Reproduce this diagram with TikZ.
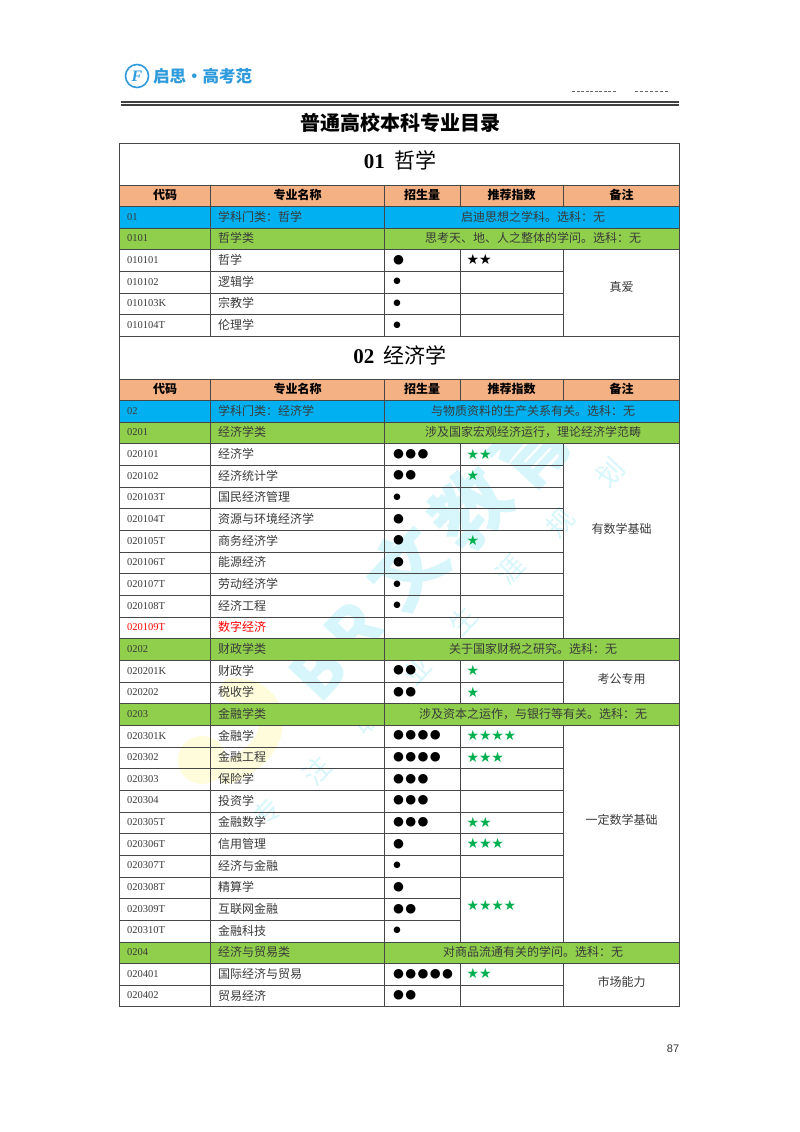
\documentclass[tikz,border=0pt]{standalone}
\usepackage{fontspec}
\setmainfont{Liberation Serif}
\newfontfamily\cjk{Noto Sans CJK SC}
\newfontfamily\symb{DejaVu Sans}
\newfontfamily\pagefont{Liberation Sans}
\definecolor{headfill}{HTML}{F4B183}
\definecolor{bluefill}{HTML}{00B0F0}
\definecolor{greenfill}{HTML}{8FCF4B}
\definecolor{stargreen}{HTML}{00B050}
\definecolor{logoblue}{HTML}{2F9BDC}
\definecolor{wmcyan}{HTML}{D6F6FB}
\definecolor{wmyellow}{HTML}{FFFCDC}
\definecolor{txt}{HTML}{3A3A3A}
\tikzset{
  grid/.style={draw=black!72,line width=1pt},
  body/.style={font=\fontsize{12}{12}\selectfont\cjk,text=txt,inner sep=0pt,anchor=west},
  code/.style={font=\fontsize{10.5}{12}\selectfont,text=txt,inner sep=0pt,anchor=west},
  merged/.style={font=\fontsize{12}{12}\selectfont\cjk,text=txt,inner sep=0pt},
  headtxt/.style={font=\fontsize{12}{12}\selectfont\cjk\bfseries,inner sep=0pt},
  bigtitle/.style={font=\fontsize{21}{21}\selectfont\bfseries,inner sep=0pt},
  wmbig/.style={font=\fontsize{76}{76}\selectfont\cjk\bfseries,text=wmcyan,inner sep=0pt,rotate=47},
  wmsmall/.style={font=\fontsize{27}{27}\selectfont\cjk,text=wmcyan,inner sep=0pt,rotate=47},
}
\newcommand{\rowh}{21.66}
% black dots, #1 count, #2 size, #3 y, #4 name
\newcommand{\dotrun}[4]{%
  \ifnum#1>0
  \foreach \k in {1,...,#1}
    \node[inner sep=0pt,font=\fontsize{#2}{#2}\selectfont\symb] (d#4-\k) at ({397+(#2-8.5)*0.37+12.3*(\k-1)},#3) {●};
  \fi}
% stars, #1 count, #2 colour, #3 y, #4 name
\newcommand{\starrun}[4]{%
  \ifnum#1>0
  \foreach \k in {1,...,#1}
    \node[inner sep=0pt,text=#2,font=\fontsize{14}{15}\selectfont\symb] (s#4-\k) at ({473+12.3*(\k-1)},#3) {★};
  \fi}
% major row: [text colour] base, row, code, name, dots, dot size, stars
\newcommand{\majorrow}[8][txt]{%
  \pgfmathsetmacro\ry{#2+\rowh*#3+10}
  \node[code,text=#1] (c#4) at (127,\ry) {#4};
  \node[body,text=#1] (n#4) at (218,\ry) {#5};
  \dotrun{#6}{#7}{\ry}{#4}
  \starrun{#8}{stargreen}{\ry}{#4}}
% coloured row: colour, base, row, code, name, remark
\newcommand{\bandrow}[6]{%
  \pgfmathsetmacro\ry{#2+\rowh*#3}
  \fill[#1] (119.5,\ry) rectangle (679.5,\ry+\rowh);
  \node[code] (c#4) at (127,\ry+10) {#4};
  \node[body] (n#4) at (218,\ry+10) {#5};
  \node[merged] (b#4) at (533,\ry+10) {#6};}
% header row: base, name
\newcommand{\headrow}[2]{%
  \fill[headfill] (119.5,#1) rectangle (679.5,#1+\rowh);
  \node[headtxt] (h#2a) at (165,#1+10) {代码};
  \node[headtxt] (h#2b) at (297.5,#1+10) {专业名称};
  \node[headtxt] (h#2c) at (422,#1+10) {招生量};
  \node[headtxt] (h#2d) at (511.5,#1+10) {推荐指数};
  \node[headtxt] (h#2e) at (621.5,#1+10) {备注};}
\begin{document}
\begin{tikzpicture}[x=1pt,y=-1pt]
\useasboundingbox (0,0) rectangle (800,1132);
\fill[white] (0,0) rectangle (800,1132);

%watermark
\fill[wmyellow] (202,760) circle (24);
\draw[wmyellow,line width=24,line cap=round] (232,690) .. controls (285,690) and (285,750) .. (228,772);
\node[wmbig,font=\fontsize{66}{66}\selectfont\cjk\bfseries] (wmb) at (318,672) {B};
\node[wmbig,font=\fontsize{66}{66}\selectfont\cjk\bfseries] (wmr) at (353,630) {R};
\node[wmbig] (wmw) at (407,568) {文};
\node[wmbig] (wmj) at (470,508) {教};
\node[wmbig] (wmy) at (530,448) {育};
\node[wmsmall] (wm1) at (267,813) {专};
\node[wmsmall] (wm2) at (317,770) {注};
\node[wmsmall] (wm3) at (367,720) {职};
\node[wmsmall] (wm4) at (417,670) {业};
\node[wmsmall] (wm5) at (463,620) {生};
\node[wmsmall] (wm6) at (510,570) {涯};
\node[wmsmall] (wm7) at (560,523) {规};
\node[wmsmall] (wm8) at (610,473) {划};

%page head
\draw[logoblue,line width=1.6pt] (137,76) circle (11.5);
\node[inner sep=0pt,text=logoblue,font=\fontsize{16}{16}\selectfont\bfseries\itshape] (logof) at (137,76) {F};
\node[inner sep=0pt,anchor=west,text=logoblue,font=\fontsize{16.5}{17}\selectfont\cjk\bfseries] (logotxt) at (153,76) {启思·高考范};
\draw[black!60,line width=0.8pt,dash pattern=on 3pt off 1.5pt] (572,91) -- (617,91);
\draw[black!60,line width=0.8pt,dash pattern=on 3pt off 2pt] (635,91) -- (669,91);
\draw[black!75,line width=1.5pt] (121,102) -- (679,102);
\draw[black!75,line width=1.9pt] (121,104.8) -- (679,104.8);
\node[inner sep=0pt,font=\fontsize{20}{20}\selectfont\cjk\bfseries] (maintitle) at (400,123) {普通高校本科专业目录};
\node[inner sep=0pt,font=\fontsize{11}{12}\selectfont\pagefont,text=black!80] (pagenum) at (673,1049) {87};

%01
\node[bigtitle] (title1) at (400,160) {01\hspace{0.45em}{\cjk\mdseries 哲学}};
\headrow{185}{1}
\bandrow{bluefill}{185}{1}{01}{学科门类：哲学}{启迪思想之学科。选科：无}
\bandrow{greenfill}{185}{2}{0101}{哲学类}{思考天、地、人之整体的学问。选科：无}
\majorrow{185}{3}{010101}{哲学}{1}{12.5}{0}
\starrun{2}{black}{259}{010101}
\majorrow{185}{4}{010102}{逻辑学}{1}{8.5}{0}
\majorrow{185}{5}{010103K}{宗教学}{1}{8.5}{0}
\majorrow{185}{6}{010104T}{伦理学}{1}{8.5}{0}
\node[merged] (r1) at (621.5,287) {真爱};

%02
\node[bigtitle] (title2) at (400,355) {02\hspace{0.45em}{\cjk\mdseries 经济学}};
\headrow{379}{2}
\bandrow{bluefill}{379}{1}{02}{学科门类：经济学}{与物质资料的生产关系有关。选科：无}
\bandrow{greenfill}{379}{2}{0201}{经济学类}{涉及国家宏观经济运行，理论经济学范畴}
\majorrow{379}{3}{020101}{经济学}{3}{12.5}{2}
\majorrow{379}{4}{020102}{经济统计学}{2}{12.5}{1}
\majorrow{379}{5}{020103T}{国民经济管理}{1}{8.5}{0}
\majorrow{379}{6}{020104T}{资源与环境经济学}{1}{12.5}{0}
\majorrow{379}{7}{020105T}{商务经济学}{1}{12.5}{1}
\majorrow{379}{8}{020106T}{能源经济}{1}{12.5}{0}
\majorrow{379}{9}{020107T}{劳动经济学}{1}{8.5}{0}
\majorrow{379}{10}{020108T}{经济工程}{1}{8.5}{0}
\majorrow[red]{379}{11}{020109T}{数字经济}{0}{8.5}{0}
\node[merged] (r2) at (621.5,529) {有数学基础};
\bandrow{greenfill}{379}{12}{0202}{财政学类}{关于国家财税之研究。选科：无}
\majorrow{379}{13}{020201K}{财政学}{2}{12.5}{1}
\majorrow{379}{14}{020202}{税收学}{2}{12.5}{1}
\node[merged] (r3) at (621.5,679) {考公专用};
\bandrow{greenfill}{379}{15}{0203}{金融学类}{涉及资本之运作，与银行等有关。选科：无}
\majorrow{379}{16}{020301K}{金融学}{4}{12.5}{4}
\majorrow{379}{17}{020302}{金融工程}{4}{12.5}{3}
\majorrow{379}{18}{020303}{保险学}{3}{12.5}{0}
\majorrow{379}{19}{020304}{投资学}{3}{12.5}{0}
\majorrow{379}{20}{020305T}{金融数学}{3}{12.5}{2}
\majorrow{379}{21}{020306T}{信用管理}{1}{12.5}{3}
\majorrow{379}{22}{020307T}{经济与金融}{1}{8.5}{0}
\majorrow{379}{23}{020308T}{精算学}{1}{12.5}{0}
\majorrow{379}{24}{020309T}{互联网金融}{2}{12.5}{0}
\majorrow{379}{25}{020310T}{金融科技}{1}{8.5}{0}
\starrun{4}{stargreen}{905}{merged}
\node[merged] (r4) at (621.5,820) {一定数学基础};
\bandrow{greenfill}{379}{26}{0204}{经济与贸易类}{对商品流通有关的学问。选科：无}
\majorrow{379}{27}{020401}{国际经济与贸易}{5}{12.5}{2}
\majorrow{379}{28}{020402}{贸易经济}{2}{12.5}{0}
\node[merged] (r5) at (621.5,982) {市场能力};

%grid
\draw[grid] (119.5,143) rectangle (679.5,1006.8);
\foreach \b/\r in {185/0,185/1,185/2,185/3,185/7,379/0,379/1,379/2,379/3,379/12,379/13,379/15,379/16,379/26,379/27}
  \draw[grid] (119.5,\b+\rowh*\r) -- (679.5,\b+\rowh*\r);
\foreach \b/\r in {185/4,185/5,185/6,379/4,379/5,379/6,379/7,379/8,379/9,379/10,379/11,379/14,379/17,379/18,379/19,379/20,379/21,379/22,379/23,379/28}
  \draw[grid] (119.5,\b+\rowh*\r) -- (563.5,\b+\rowh*\r);
\foreach \r in {24,25}
  \draw[grid] (119.5,379+\rowh*\r) -- (460.5,379+\rowh*\r);
\foreach \x in {210.5,384.5} {
  \draw[grid] (\x,185) -- (\x,336.6);
  \draw[grid] (\x,379) -- (\x,1006.8);
}
\foreach \x in {460.5,563.5} {
  \draw[grid] (\x,185) -- (\x,206.7);
  \draw[grid] (\x,250.3) -- (\x,336.6);
  \draw[grid] (\x,379) -- (\x,400.7);
  \draw[grid] (\x,444) -- (\x,639);
  \draw[grid] (\x,660.6) -- (\x,704);
  \draw[grid] (\x,725.6) -- (\x,942.2);
  \draw[grid] (\x,963.8) -- (\x,1006.8);
}
\end{tikzpicture}
\end{document}
